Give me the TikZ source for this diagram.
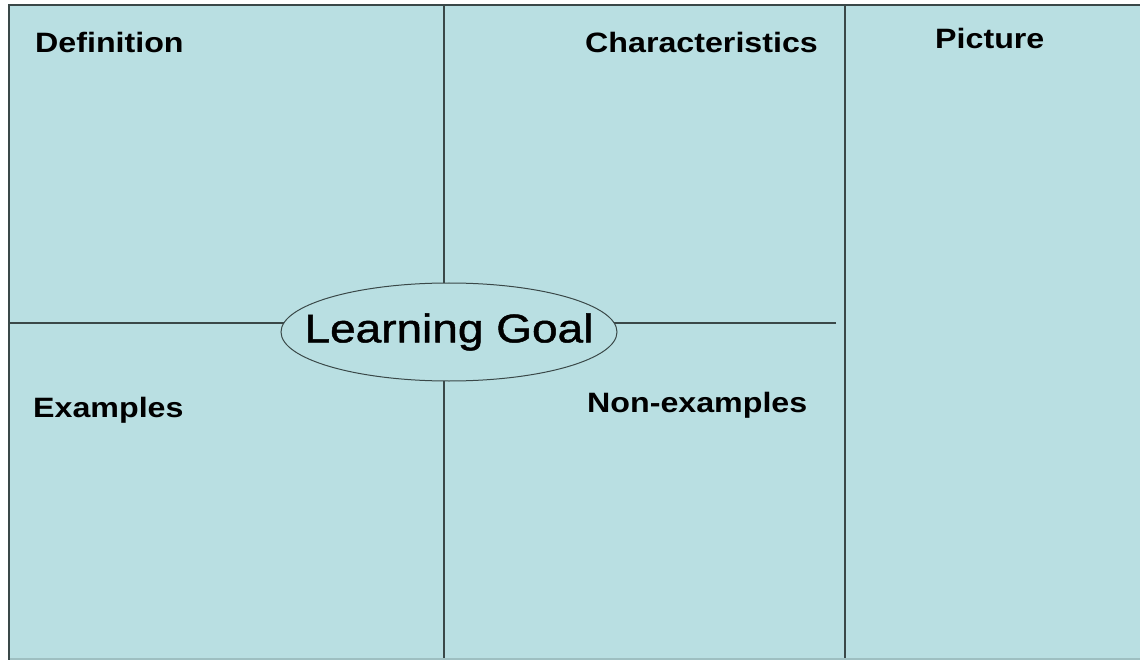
\documentclass[tikz,border=0pt]{standalone}
\usepackage{fontspec}
\usetikzlibrary{shapes.geometric}
\newfontfamily\labfont[FakeStretch=1.15]{Liberation Sans}
\newfontfamily\goalfont[FakeStretch=1.15,FakeBold=1.2]{Liberation Sans}
\definecolor{panel}{HTML}{B9DFE2}
\definecolor{rule}{HTML}{3A4848}
\definecolor{bottomrule}{HTML}{9EBFC1}
\tikzset{
  label/.style={anchor=base west, inner sep=0pt, font=\labfont\bfseries\fontsize{28}{30}\selectfont},
  divider/.style={draw=rule, line width=2pt},
  goalnode/.style={ellipse, draw=rule, line width=1pt, fill=panel, minimum width=336pt, minimum height=98pt, inner sep=0pt, font=\goalfont\fontsize{40}{44}\selectfont}
}
\begin{document}
\begin{tikzpicture}[x=1pt,y=-1pt]
\useasboundingbox (0,0) rectangle (1140,660);
\fill[white] (0,0) rectangle (1140,660);
\fill[panel] (8.5,5.5) rectangle (1140,660);
% outer border
\coordinate (tl) at (8.5,5.5);
\coordinate (bl) at (8.5,660);
\coordinate (tr) at (1140,5.5);
\coordinate (vtop) at (443.5,5.5);
\coordinate (vbot) at (443.5,660);
\coordinate (hleft) at (8.5,323);
\coordinate (hright) at (836,323);
\coordinate (rtop) at (845,5.5);
\coordinate (rbot) at (845,660);
\coordinate (gc) at (449,332);
% dividers (drawn under the goal ellipse)
\draw[divider] (vtop) -- (vtop |- gc);
\draw[divider] (vbot) -- (vbot |- gc);
\draw[divider] (hleft) -- (gc |- hleft);
\draw[divider] (hright) -- (gc |- hright);
% goal node
\node[goalnode] (goal) at (gc) {\makebox[0pt]{\raisebox{-3pt}{Learning Goal}}};
\draw[divider] (rtop) -- (rbot);
\draw[divider] (bl) -- (tl) -- (tr);
\draw[bottomrule, line width=1.5pt] (9.5,659.2) -- (1140,659.2);
% labels
\node[label] (def) at (35,53) {Definition};
\node[label] (char) at (585,53) {Characteristics};
\node[label] (pic) at (935,49) {Picture};
\node[label] (ex) at (33,417) {Examples};
\node[label] (nonex) at (587,412) {Non-examples};
\end{tikzpicture}
\end{document}
